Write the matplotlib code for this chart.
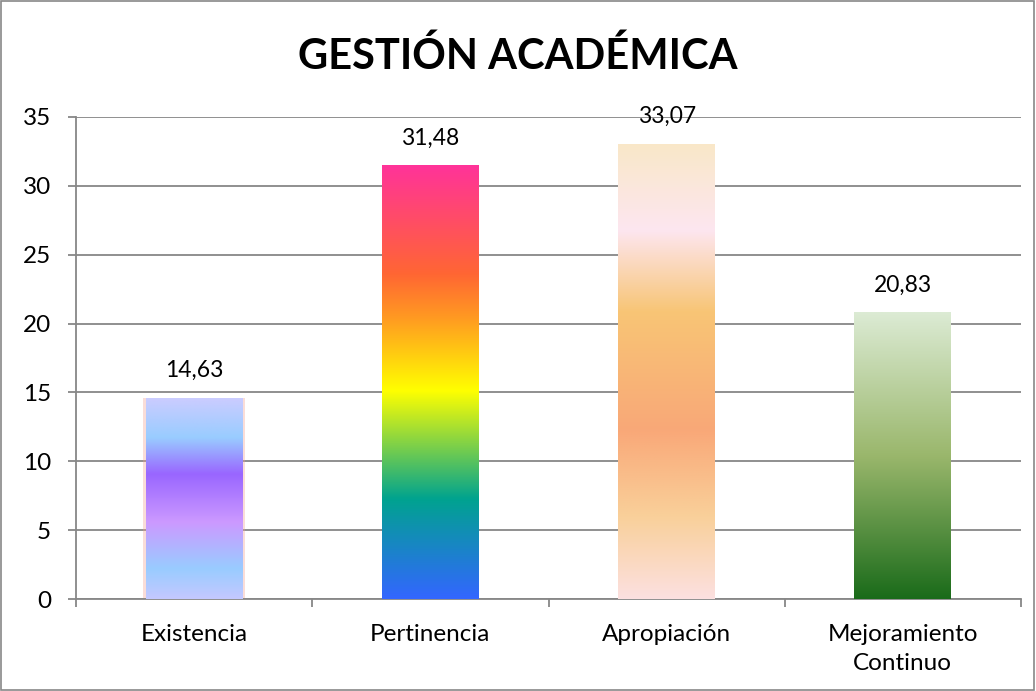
import numpy as np
import matplotlib.pyplot as plt
from matplotlib.colors import LinearSegmentedColormap
from matplotlib.patches import Rectangle

categories = ["Existencia", "Pertinencia", "Apropiación", "Mejoramiento\nContinuo"]
values = [14.63, 31.48, 33.07, 20.83]
labels = ["14,63", "31,48", "33,07", "20,83"]

# gradient stops, listed from bottom (0) to top (1) of each bar
gradients = [
    [(0.0, "#c4c8ff"), (0.15, "#99ccff"), (0.38, "#cc99ff"), (0.62, "#9966ff"), (0.8, "#99ccff"), (1.0, "#ccccff")],
    [(0.0, "#3366ff"), (0.23, "#00a38f"), (0.48, "#ffff00"), (0.65, "#ff9922"), (0.75, "#ff6633"), (1.0, "#ff3399")],
    [(0.0, "#fce0e0"), (0.18, "#f9d09a"), (0.37, "#f9a878"), (0.63, "#f8c575"), (0.81, "#fde6f0"), (1.0, "#f9e8c8")],
    [(0.0, "#1a6b1a"), (0.5, "#9ab76c"), (1.0, "#dcebd4")],
]

plt.rcParams['font.family'] = ['Lato', 'DejaVu Sans']

fig = plt.figure(figsize=(10.36, 6.91), dpi=100)
ax = fig.add_axes([0.0734, 0.1331, 0.9121, 0.6976])

x = np.arange(len(categories))
width = 0.41
grid_color = "#878787"

for i, (v, g) in enumerate(zip(values, gradients)):
    if i == 0:
        # faint reddish glow around the first bar
        ax.add_patch(Rectangle((x[i] - width / 2 - 0.01, -0.2), width + 0.02, v + 0.2,
                               facecolor="#f2a090", alpha=0.35, edgecolor="none", zorder=2))
    cmap = LinearSegmentedColormap.from_list("g%d" % i, g)
    grad = np.linspace(0, 1, 256).reshape(-1, 1)
    im = ax.imshow(grad, cmap=cmap, origin="lower", aspect="auto",
                   extent=(x[i] - width / 2, x[i] + width / 2, 0, v), zorder=3)
    rect = Rectangle((x[i] - width / 2, 0), width, v, transform=ax.transData,
                     facecolor="none", edgecolor="none")
    ax.add_patch(rect)
    im.set_clip_path(rect)
    ax.text(x[i], v + 1.2, labels[i], ha="center", va="bottom", fontsize=16.5, color="black")

ax.set_xlim(-0.5, len(categories) - 0.5)
ax.set_ylim(0, 35)
ax.set_yticks(range(0, 36, 5))
ax.yaxis.grid(True, color=grid_color, linewidth=1.3, zorder=0)
ax.set_axisbelow(True)

ax.set_xticks(x)
ax.set_xticklabels(categories, fontsize=17.5, linespacing=1.45)
ax.tick_params(axis="x", length=0, pad=18)
ax.set_xticks(np.arange(-0.5, len(categories), 1.0), minor=True)
ax.tick_params(axis="x", which="minor", length=6, color=grid_color, width=1.3)
ax.tick_params(axis="y", labelsize=17.5, length=6, color=grid_color, width=1.3, pad=12)

for s in ["top", "right"]:
    ax.spines[s].set_visible(False)
for s in ["left", "bottom"]:
    ax.spines[s].set_color(grid_color)
    ax.spines[s].set_linewidth(1.3)

fig.text(0.5, 0.918, "GESTIÓN ACADÉMICA", ha="center", va="center",
         fontsize=30, fontweight="bold")

fig.patches.append(Rectangle((0.001, 0.001), 0.997, 0.997, transform=fig.transFigure,
                             fill=False, edgecolor="#888888", linewidth=1.2))

fig.savefig("out.png", dpi=100)
